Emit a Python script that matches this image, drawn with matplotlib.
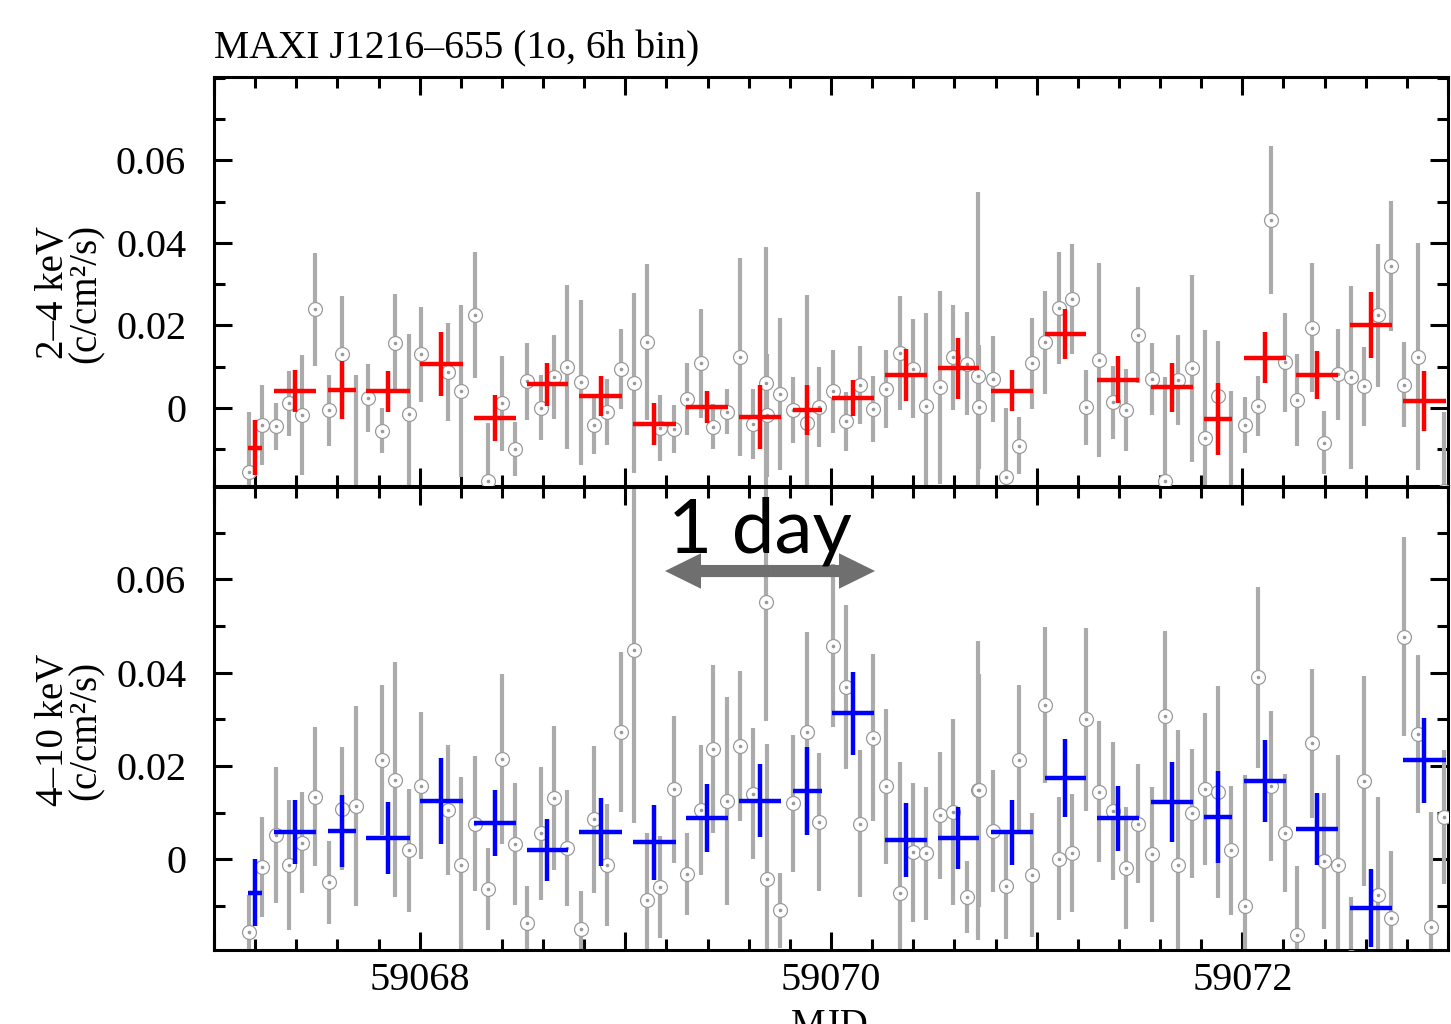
import numpy as np
import matplotlib
matplotlib.use("Agg")
import matplotlib.pyplot as plt
from matplotlib.ticker import MultipleLocator, FuncFormatter
from matplotlib.patches import FancyArrow

# ---------------- data ----------------
# 1-orbit bins (gray), MJD
orb_mjd = [59067.171, 59067.234, 59067.300, 59067.364, 59067.428, 59067.492, 59067.559, 59067.624,
           59067.689, 59067.749, 59067.817, 59067.878, 59067.948, 59068.008, 59068.138, 59068.202,
           59068.269, 59068.334, 59068.399, 59068.464, 59068.523, 59068.591, 59068.653, 59068.718,
           59068.783, 59068.848, 59068.912, 59068.978, 59069.042, 59069.107, 59069.169, 59069.237,
           59069.299, 59069.367, 59069.428, 59069.493, 59069.558, 59069.623, 59069.686, 59069.690,
           59069.752, 59069.817, 59069.884, 59069.942, 59070.012, 59070.072, 59070.142, 59070.205,
           59070.269, 59070.335, 59070.399, 59070.461, 59070.529, 59070.594, 59070.659, 59070.715,
           59070.719, 59070.788, 59070.850, 59070.915, 59070.977, 59071.041, 59071.109, 59071.174,
           59071.239, 59071.304, 59071.369, 59071.434, 59071.494, 59071.563, 59071.625, 59071.688,
           59071.753, 59071.818, 59071.883, 59071.947, 59072.014, 59072.077, 59072.139, 59072.209,
           59072.268, 59072.338, 59072.398, 59072.463, 59072.528, 59072.593, 59072.658, 59072.723,
           59072.787, 59072.852, 59072.917, 59072.982]

# 2-4 keV, 1-orbit
orb_lo = [-0.0154, -0.0041, -0.0044, 0.0011, -0.0017, 0.0239, -0.0006, 0.0130,
          -0.0240, 0.0024, -0.0055, 0.0158, -0.0015, 0.0130, 0.0088, 0.0042,
          0.0225, -0.0177, 0.0011, -0.0099, 0.0065, 0.0001, 0.0076, 0.0100,
          0.0062, -0.0041, -0.0010, 0.0095, 0.0060, 0.0159, -0.0049, -0.0051,
          0.0022, 0.0108, -0.0045, -0.0009, 0.0123, -0.0039, 0.0060, -0.0018,
          0.0034, -0.0005, -0.0036, 0.0003, 0.0040, -0.0032, 0.0056, -0.0002,
          0.0046, 0.0133, 0.0095, 0.0006, 0.0050, 0.0123, 0.0107, 0.0078,
          0.0002, 0.0070, -0.0168, -0.0092, 0.0108, 0.0159, 0.0243, 0.0264,
          0.0002, 0.0116, 0.0014, -0.0005, 0.0177, 0.0070, -0.0177, 0.0068,
          0.0096, -0.0072, 0.0029, -0.0210, -0.0041, 0.0005, 0.0456, 0.0111,
          0.0019, 0.0195, -0.0084, 0.0082, 0.0074, 0.0053, 0.0225, 0.0344,
          0.0056, 0.0124, -0.0320, -0.0200]
orb_lo_err = [0.0145, 0.0097, 0.0057, 0.0079, 0.0145, 0.0137, 0.0087, 0.0141,
              0.0320, 0.0083, 0.0055, 0.0119, 0.0194, 0.0115, 0.0119, 0.0208,
              0.0152, 0.0141, 0.0116, 0.0065, 0.0093, 0.0079, 0.0102, 0.0199,
              0.0200, 0.0070, 0.0080, 0.0097, 0.0218, 0.0189, 0.0080, 0.0058,
              0.0087, 0.0133, 0.0055, 0.0055, 0.0240, 0.0085, 0.0330, 0.0150,
              0.0185, 0.0081, 0.0310, 0.0097, 0.0100, 0.0071, 0.0095, 0.0080,
              0.0094, 0.0138, 0.0120, 0.0223, 0.0234, 0.0127, 0.0125, 0.0446,
              0.0150, 0.0105, 0.0167, 0.0069, 0.0110, 0.0125, 0.0136, 0.0134,
              0.0091, 0.0235, 0.0088, 0.0100, 0.0116, 0.0088, 0.0253, 0.0108,
              0.0227, 0.0261, 0.0134, 0.0250, 0.0068, 0.0073, 0.0180, 0.0120,
              0.0111, 0.0156, 0.0076, 0.0110, 0.0222, 0.0096, 0.0173, 0.0158,
              0.0103, 0.0275, 0.0100, 0.0190]

# 4-10 keV, 1-orbit
orb_hi = [-0.0155, -0.0017, 0.0052, -0.0012, 0.0036, 0.0134, -0.0049, 0.0109,
          0.0114, -0.0350, 0.0213, 0.0171, 0.0020, 0.0158, 0.0106, -0.0012,
          0.0077, -0.0064, 0.0216, 0.0033, -0.0136, 0.0056, 0.0132, 0.0024,
          -0.0148, 0.0086, -0.0012, 0.0273, 0.0449, -0.0087, -0.0059, 0.0150,
          -0.0032, 0.0106, 0.0236, 0.0126, 0.0243, 0.0141, 0.0552, -0.0042,
          -0.0109, 0.0120, 0.0273, 0.0081, 0.0458, 0.0369, 0.0077, 0.0261,
          0.0157, -0.0072, 0.0015, 0.0013, 0.0095, 0.0102, -0.0080, 0.0148,
          0.0148, 0.0061, -0.0057, 0.0214, -0.0034, 0.0331, 0.0002, 0.0014,
          0.0300, 0.0145, 0.0104, -0.0018, 0.0077, 0.0011, 0.0307, -0.0012,
          0.0099, 0.0151, 0.0144, 0.0020, -0.0100, 0.0390, 0.0157, 0.0057,
          -0.0162, 0.0249, -0.0003, -0.0012, -0.0210, 0.0168, -0.0076, -0.0125,
          0.0477, 0.0268, -0.0144, 0.0091]
orb_hi_err = [0.0079, 0.0107, 0.0146, 0.0139, 0.0108, 0.0149, 0.0089, 0.0132,
              0.0214, 0.0100, 0.0161, 0.0252, 0.0132, 0.0157, 0.0140, 0.0188,
              0.0145, 0.0088, 0.0182, 0.0130, 0.0080, 0.0142, 0.0155, 0.0124,
              0.0080, 0.0158, 0.0130, 0.0171, 0.0370, 0.0143, 0.0109, 0.0158,
              0.0088, 0.0139, 0.0180, 0.0223, 0.0161, 0.0141, 0.0255, 0.0290,
              0.0081, 0.0146, 0.0214, 0.0148, 0.0175, 0.0176, 0.0157, 0.0179,
              0.0166, 0.0280, 0.0149, 0.0143, 0.0136, 0.0200, 0.0077, 0.0320,
              0.0250, 0.0131, 0.0114, 0.0160, 0.0133, 0.0168, 0.0131, 0.0126,
              0.0196, 0.0151, 0.0148, 0.0130, 0.0128, 0.0145, 0.0183, 0.0290,
              0.0138, 0.0163, 0.0227, 0.0138, 0.0280, 0.0194, 0.0161, 0.0126,
              0.0148, 0.0160, 0.0145, 0.0235, 0.0130, 0.0225, 0.0210, 0.0143,
              0.0213, 0.0169, 0.0246, 0.0144]

# 6-hour bins
bin_mjd = [59067.200, 59067.395, 59067.622, 59067.846, 59068.105, 59068.365, 59068.621, 59068.880,
           59069.141, 59069.396, 59069.655, 59069.884, 59070.106, 59070.365, 59070.618, 59070.881,
           59071.140, 59071.395, 59071.656, 59071.883, 59072.111, 59072.364, 59072.625, 59072.885]
bin_span = [0.035, 0.103, 0.067, 0.106, 0.105, 0.101, 0.101, 0.105,
            0.104, 0.103, 0.104, 0.070, 0.103, 0.103, 0.100, 0.102,
            0.101, 0.101, 0.102, 0.069, 0.103, 0.103, 0.103, 0.103]
bin_lo = [-0.0096, 0.0042, 0.0044, 0.0040, 0.0107, -0.0024, 0.0057, 0.0029,
          -0.0039, 0.0003, -0.0022, -0.0005, 0.0024, 0.0080, 0.0096, 0.0042,
          0.0179, 0.0068, 0.0050, -0.0027, 0.0122, 0.0080, 0.0200, 0.0017]
bin_lo_err = [0.0067, 0.0051, 0.0070, 0.0050, 0.0077, 0.0055, 0.0053, 0.0049,
              0.0050, 0.0039, 0.0077, 0.0061, 0.0044, 0.0063, 0.0073, 0.0050,
              0.0061, 0.0057, 0.0059, 0.0087, 0.0061, 0.0057, 0.0080, 0.0072]
bin_hi = [-0.0071, 0.0059, 0.0061, 0.0046, 0.0126, 0.0078, 0.0020, 0.0058,
          0.0037, 0.0089, 0.0126, 0.0147, 0.0313, 0.0042, 0.0046, 0.0058,
          0.0175, 0.0088, 0.0123, 0.0091, 0.0168, 0.0066, -0.0104, 0.0213]
bin_hi_err = [0.0071, 0.0069, 0.0078, 0.0078, 0.0092, 0.0071, 0.0066, 0.0073,
              0.0080, 0.0073, 0.0078, 0.0094, 0.0089, 0.0080, 0.0067, 0.0069,
              0.0084, 0.0070, 0.0085, 0.0099, 0.0087, 0.0077, 0.0084, 0.0091]

yticks = [0, 0.02, 0.04, 0.06]
xlabels_every = 2

# ---------------- figure ----------------
SERIF = ["Liberation Serif", "DejaVu Serif"]
plt.rcParams["font.family"] = SERIF
fig = plt.figure(figsize=(14.51, 10.24), dpi=100)
W, H = 1451.0, 1024.0

ax_top = fig.add_axes([214 / W, 1 - 486 / H, 1234 / W, 409 / H])
ax_bot = fig.add_axes([214 / W, 1 - 950 / H, 1234 / W, 463 / H])

GRAY = "#ababab"
CIRC = "#9a9a9a"


def draw_panel(ax, yo, yoe, yb, ybe, color, ylim):
    ax.errorbar(orb_mjd, yo, yerr=yoe, fmt="none", ecolor=GRAY, elinewidth=3.0,
                capsize=0, zorder=2)
    ax.plot(orb_mjd, yo, "o", mfc="white", mec=CIRC, ms=10, mew=0.9, zorder=3)
    ax.plot(orb_mjd, yo, "o", color=CIRC, ms=1.6, zorder=3)
    ax.errorbar(bin_mjd, yb, xerr=bin_span, yerr=ybe, fmt="none", ecolor=color,
                elinewidth=3.2, capsize=0, zorder=5)
    ax.set_xlim(59067.0, 59073.0)
    ax.set_ylim(*ylim)
    ax.xaxis.set_major_locator(MultipleLocator(1))
    ax.xaxis.set_minor_locator(MultipleLocator(0.2))
    ax.set_yticks(yticks)
    ax.yaxis.set_minor_locator(MultipleLocator(0.01))
    ax.yaxis.set_major_formatter(FuncFormatter(lambda v, p: "0" if abs(v) < 1e-9 else f"{v:.2f}"))
    ax.tick_params(which="both", direction="in", top=True, right=True, width=2.2,
                   labelsize=29, pad=20)
    ax.tick_params(which="major", length=13)
    ax.tick_params(which="minor", length=8)
    for s in ax.spines.values():
        s.set_linewidth(2.2)


draw_panel(ax_top, orb_lo, orb_lo_err, bin_lo, bin_lo_err, "#ff0000", (-0.0189, 0.0802))
draw_panel(ax_bot, orb_hi, orb_hi_err, bin_hi, bin_hi_err, "#0000ff", (-0.0194, 0.0798))

ax_top.tick_params(axis="x", labelbottom=False)
ax_bot.xaxis.set_major_formatter(
    FuncFormatter(lambda v, p: f"{v:.0f}" if int(round(v)) % xlabels_every == 0 else ""))
ax_bot.tick_params(axis="x", pad=9)

# 1 day annotation
arrow_y = 0.0618
x_left, x_right = 59069.193, 59070.214
xc = 0.5 * (x_left + x_right)
for tip in (x_left, x_right):
    ax_bot.add_patch(FancyArrow(xc, arrow_y, tip - xc, 0, width=0.0026, head_width=0.0076,
                                head_length=0.175, length_includes_head=True,
                                color="#6f6f6f", lw=0, zorder=6))
ax_bot.text(59069.655, 0.0658, "1 day", fontsize=55, family=["Lato", "DejaVu Sans"],
            weight="normal", ha="center", va="baseline", color="black", zorder=7)

# texts
fig.text(214 / W, 1 - 58 / H, "MAXI J1216\u2013655 (1o, 6h bin)", fontsize=28.5,
         ha="left", va="baseline")
fig.text(70 / W, 1 - 293 / H, "2\u20134 keV\n(c/cm\u00b2/s)", fontsize=28, rotation=90,
         ha="center", va="center", multialignment="center", linespacing=0.85)
fig.text(70 / W, 1 - 730 / H, "4\u201310 keV\n(c/cm\u00b2/s)", fontsize=28, rotation=90,
         ha="center", va="center", multialignment="center", linespacing=0.85)
fig.text(830 / W, 1 - 1008 / H, "MJD", fontsize=28, ha="center", va="top")

fig.savefig("out.png", dpi=100)
